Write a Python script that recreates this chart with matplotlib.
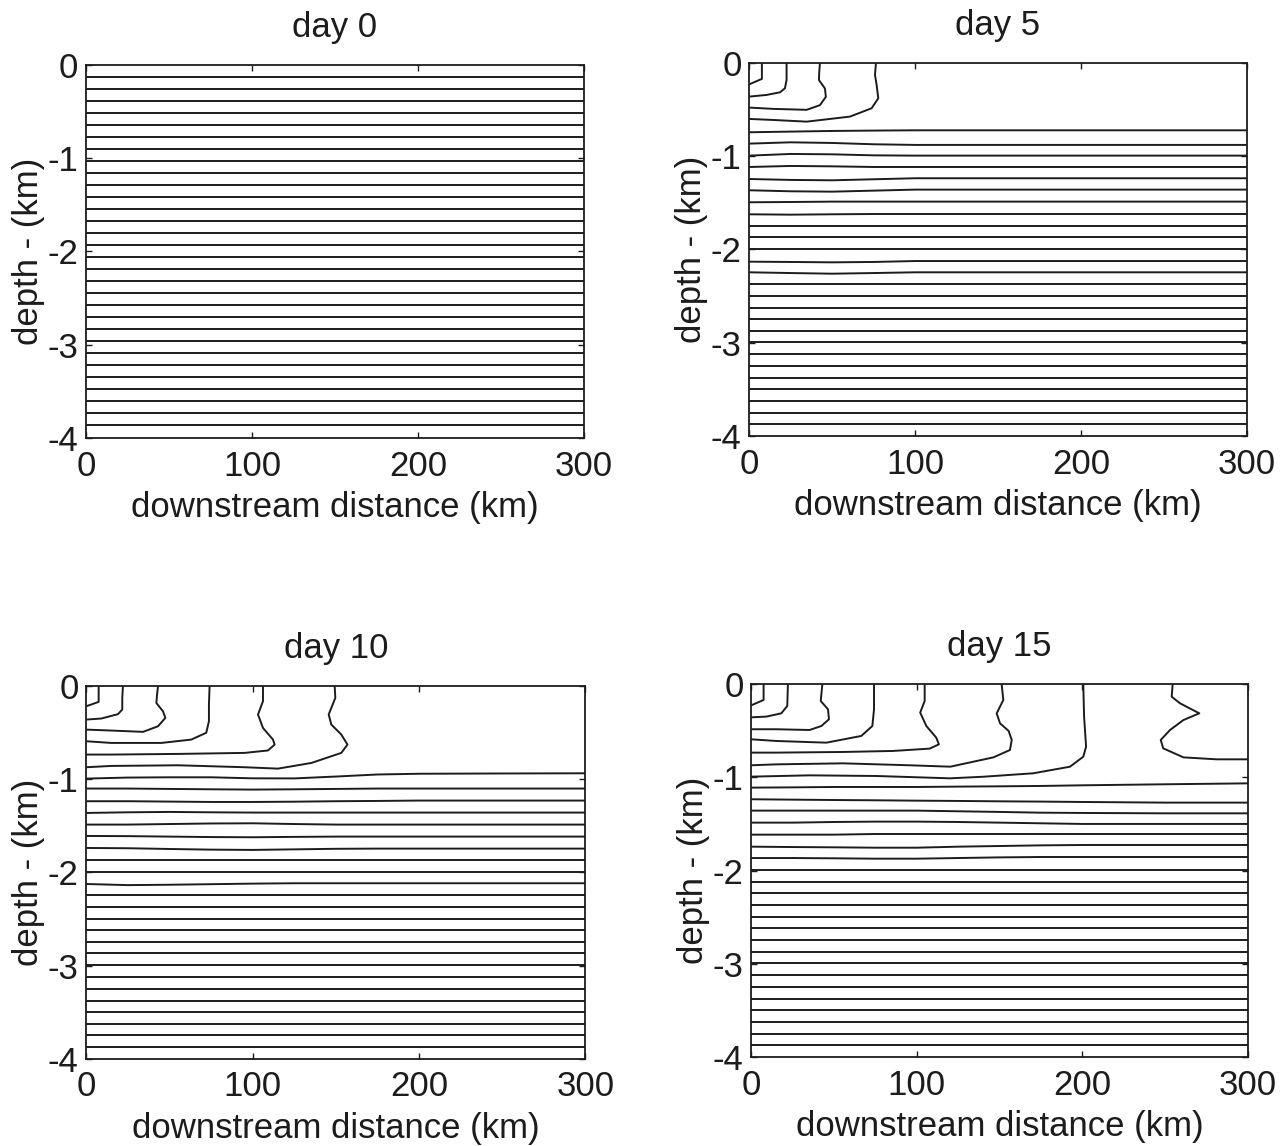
import matplotlib
matplotlib.use("Agg")
import matplotlib.pyplot as plt

plt.rcParams["font.family"] = ["Liberation Sans", "DejaVu Sans"]
plt.rcParams["axes.unicode_minus"] = False

# ---------------------------------------------------------------- labels
titles = ["day 0", "day 5", "day 10", "day 15"]
x_ticks = [0, 100, 200, 300]
y_ticks = [0, -1, -2, -3, -4]
x_label = "downstream distance (km)"
y_label = "depth - (km)"

# ---------------------------------------------------------------- day 0
# undisturbed stratification: every isopycnal is level
day0_flat = [-0.125, -0.258, -0.386, -0.519, -0.648, -0.773, -0.902, -1.030,
             -1.159, -1.288, -1.417, -1.545, -1.674, -1.803, -1.932, -2.061,
             -2.190, -2.318, -2.447, -2.576, -2.705, -2.834, -2.963, -3.091,
             -3.220, -3.349, -3.478, -3.607, -3.735, -3.864]

# ---------------------------------------------------------------- day 5
day5_grid = [0, 25, 50, 75, 100, 150, 200, 250, 300]
day5_profiles = [
    [-0.741, -0.734, -0.727, -0.723, -0.720, -0.720, -0.720, -0.720, -0.720],
    [-0.863, -0.849, -0.856, -0.870, -0.877, -0.877, -0.877, -0.877, -0.877],
    [-0.992, -0.974, -0.978, -0.989, -0.992, -0.992, -0.992, -0.992, -0.992],
    [-1.114, -1.103, -1.107, -1.114, -1.114, -1.114, -1.114, -1.114, -1.114],
    [-1.243, -1.253, -1.257, -1.246, -1.235, -1.235, -1.235, -1.235, -1.235],
    [-1.364, -1.375, -1.379, -1.368, -1.357, -1.357, -1.357, -1.357, -1.357],
    [-1.493, -1.490, -1.486, -1.486, -1.486, -1.486, -1.486, -1.486, -1.486],
    [-1.622, -1.626, -1.622, -1.619, -1.619, -1.619, -1.619, -1.619, -1.619],
    [-2.131, -2.134, -2.138, -2.134, -2.124, -2.124, -2.124, -2.124, -2.124],
    [-2.245, -2.253, -2.260, -2.253, -2.245, -2.245, -2.245, -2.245, -2.245],
]
day5_flat = [-1.744, -1.869, -1.995, -2.374, -2.496, -2.625, -2.750, -2.876,
             -2.997, -3.126, -3.248, -3.377, -3.502, -3.628, -3.757, -3.878]
day5_caps_x = [
    [7.6, 7.6, 0],
    [22.5, 22.5, 21.5, 18.5, 10.5, 0],
    [42.6, 42.2, 42.0, 45.6, 46.2, 42.6, 34.6, 14.5, 0],
    [76.4, 75.8, 76.8, 77.8, 73.8, 60.7, 34.6, 14.5, 0],
]
day5_caps_z = [
    [0, -0.168, -0.226],
    [0, -0.179, -0.269, -0.312, -0.340, -0.358],
    [0, -0.09, -0.18, -0.27, -0.36, -0.45, -0.50, -0.49, -0.476],
    [0, -0.125, -0.233, -0.376, -0.483, -0.573, -0.627, -0.609, -0.598],
]

# ---------------------------------------------------------------- day 10
day10_grid = [0, 25, 50, 75, 100, 125, 150, 175, 200, 250, 300]
day10_profiles = [
    [-0.992, -0.981, -0.978, -0.978, -0.989, -0.990, -0.970, -0.948, -0.940, -0.937, -0.935],
    [-1.099, -1.099, -1.103, -1.107, -1.110, -1.107, -1.103, -1.099, -1.099, -1.099, -1.099],
    [-1.235, -1.235, -1.239, -1.243, -1.243, -1.240, -1.235, -1.232, -1.228, -1.228, -1.228],
    [-1.361, -1.354, -1.350, -1.354, -1.357, -1.357, -1.357, -1.357, -1.357, -1.357, -1.357],
    [-1.486, -1.486, -1.480, -1.474, -1.472, -1.480, -1.486, -1.486, -1.486, -1.486, -1.486],
    [-1.608, -1.610, -1.615, -1.620, -1.622, -1.618, -1.615, -1.615, -1.615, -1.615, -1.615],
    [-1.737, -1.740, -1.748, -1.755, -1.758, -1.752, -1.746, -1.744, -1.744, -1.744, -1.744],
    [-2.124, -2.136, -2.132, -2.126, -2.120, -2.116, -2.116, -2.116, -2.116, -2.116, -2.116],
]
day10_flat = [-1.864, -1.991, -2.242, -2.367, -2.496, -2.621, -2.747, -2.868,
              -2.997, -3.126, -3.248, -3.377, -3.499, -3.628, -3.749, -3.878]
day10_caps_x = [
    [7.4, 7.4, 0],
    [22.0, 21.6, 21.6, 19.0, 9.0, 0],
    [43.1, 42.5, 42.1, 46.1, 47.5, 43.1, 34.1, 15.0, 0],
    [74.1, 73.7, 73.7, 72.1, 63.1, 45.1, 15.0, 0],
    [106.2, 106.2, 103.2, 106.2, 112.2, 113.2, 109.2, 95.2, 55.1, 15.0, 0],
    [149.3, 149.7, 145.7, 147.3, 153.3, 157.0, 153.3, 135.3, 115.2, 95.2, 55.1, 15.0, 0],
]
day10_caps_z = [
    [0, -0.168, -0.215],
    [0, -0.125, -0.250, -0.300, -0.347, -0.358],
    [0, -0.09, -0.18, -0.27, -0.34, -0.43, -0.49, -0.476, -0.466],
    [0, -0.197, -0.376, -0.500, -0.573, -0.609, -0.609, -0.591],
    [0, -0.161, -0.304, -0.448, -0.573, -0.627, -0.690, -0.716, -0.727, -0.734, -0.734],
    [0, -0.125, -0.304, -0.412, -0.519, -0.627, -0.716, -0.824, -0.885, -0.870, -0.849, -0.856, -0.870],
]

# ---------------------------------------------------------------- day 15
day15_grid = [0, 25, 50, 75, 100, 125, 150, 175, 200, 250, 300]
day15_profiles = [
    [-1.110, -1.107, -1.103, -1.103, -1.103, -1.099, -1.096, -1.092, -1.085, -1.074, -1.064],
    [-1.235, -1.239, -1.243, -1.246, -1.250, -1.253, -1.257, -1.260, -1.264, -1.271, -1.271],
    [-1.357, -1.357, -1.357, -1.357, -1.357, -1.364, -1.371, -1.379, -1.382, -1.386, -1.386],
    [-1.486, -1.486, -1.479, -1.475, -1.475, -1.479, -1.486, -1.493, -1.500, -1.500, -1.500],
    [-1.615, -1.615, -1.615, -1.608, -1.608, -1.608, -1.608, -1.608, -1.608, -1.608, -1.608],
    [-1.744, -1.748, -1.751, -1.755, -1.755, -1.744, -1.737, -1.730, -1.726, -1.726, -1.726],
    [-1.866, -1.866, -1.869, -1.873, -1.873, -1.866, -1.859, -1.855, -1.855, -1.855, -1.855],
]
day15_flat = [-1.991, -2.120, -2.245, -2.370, -2.496, -2.621, -2.747, -2.872,
              -2.997, -3.126, -3.248, -3.377, -3.499, -3.628, -3.752, -3.878]
day15_caps_x = [
    [7.4, 7.4, 0],
    [22.1, 21.7, 18.1, 9.1, 0],
    [42.9, 41.9, 46.3, 46.9, 42.3, 35.2, 15.1, 0],
    [74.1, 74.1, 73.1, 66.4, 45.3, 15.1, 0],
    [104.7, 104.7, 102.0, 105.7, 111.7, 113.3, 107.7, 85.6, 55.4, 15.1, 0],
    [151.2, 152.2, 148.2, 150.2, 155.4, 157.3, 156.2, 146.2, 120.2, 95.6, 55.4, 15.1, 0],
    [200.5, 201.0, 202.2, 200.5, 192.5, 170.3, 140.1, 120.0, 75.5, 35.2, 0],
    [254.5, 253.9, 258.9, 270.6, 261.0, 252.9, 247.3, 248.8, 261.0, 281.0, 300],
]
day15_caps_z = [
    [0, -0.168, -0.226],
    [0, -0.233, -0.312, -0.347, -0.355],
    [0, -0.179, -0.269, -0.376, -0.448, -0.491, -0.483, -0.483],
    [0, -0.269, -0.448, -0.555, -0.627, -0.609, -0.591],
    [0, -0.179, -0.304, -0.448, -0.573, -0.645, -0.691, -0.716, -0.727, -0.734, -0.734],
    [0, -0.169, -0.312, -0.419, -0.501, -0.598, -0.706, -0.785, -0.885, -0.870, -0.849, -0.860, -0.870],
    [0, -0.350, -0.670, -0.778, -0.885, -0.956, -0.993, -1.010, -0.985, -0.978, -0.992],
    [0, -0.133, -0.204, -0.312, -0.384, -0.491, -0.598, -0.688, -0.785, -0.806, -0.806],
]

# ---------------------------------------------------------------- drawing
INK = "#1c1c1c"
LINE = dict(color=INK, lw=1.4, solid_joinstyle="round", solid_capstyle="butt")
FS = 25

fig = plt.figure(figsize=(12.85, 11.46), dpi=100)
rects = [
    (0.0669, 0.6178, 0.3875, 0.3255),
    (0.5831, 0.6198, 0.3871, 0.3250),
    (0.0672, 0.0762, 0.3883, 0.3250),
    (0.5847, 0.0779, 0.3865, 0.3250),
]

panels = [
    (day0_flat, None, [], [], []),
    (day5_flat, day5_grid, day5_profiles, day5_caps_x, day5_caps_z),
    (day10_flat, day10_grid, day10_profiles, day10_caps_x, day10_caps_z),
    (day15_flat, day15_grid, day15_profiles, day15_caps_x, day15_caps_z),
]

for rect, title, (flat, grid, profiles, caps_x, caps_z) in zip(rects, titles, panels):
    ax = fig.add_axes(rect)
    for z in flat:
        ax.axhline(z, **LINE)
    for prof in profiles:
        ax.plot(grid, prof, **LINE)
    for cx, cz in zip(caps_x, caps_z):
        ax.plot(cx, cz, **LINE)

    ax.set_xlim(0, 300)
    ax.set_ylim(-4, 0)
    ax.set_xticks(x_ticks)
    ax.set_yticks(y_ticks)
    ax.set_xticklabels([str(t) for t in x_ticks])
    ax.set_yticklabels([str(t) for t in y_ticks])
    ax.tick_params(direction="in", top=True, right=True, length=4, width=1.0,
                   color=INK, labelcolor=INK, labelsize=FS)
    ax.tick_params(axis="x", pad=8.5)
    ax.tick_params(axis="y", pad=5.5)
    for sp in ax.spines.values():
        sp.set_linewidth(1.3)
        sp.set_color(INK)
    ax.set_title(title, fontsize=FS, color=INK, pad=20)
    ax.set_xlabel(x_label, fontsize=FS, color=INK, labelpad=6)
    ax.set_ylabel(y_label, fontsize=FS, color=INK, labelpad=2)

fig.savefig("out.png", dpi=100, facecolor="white")
